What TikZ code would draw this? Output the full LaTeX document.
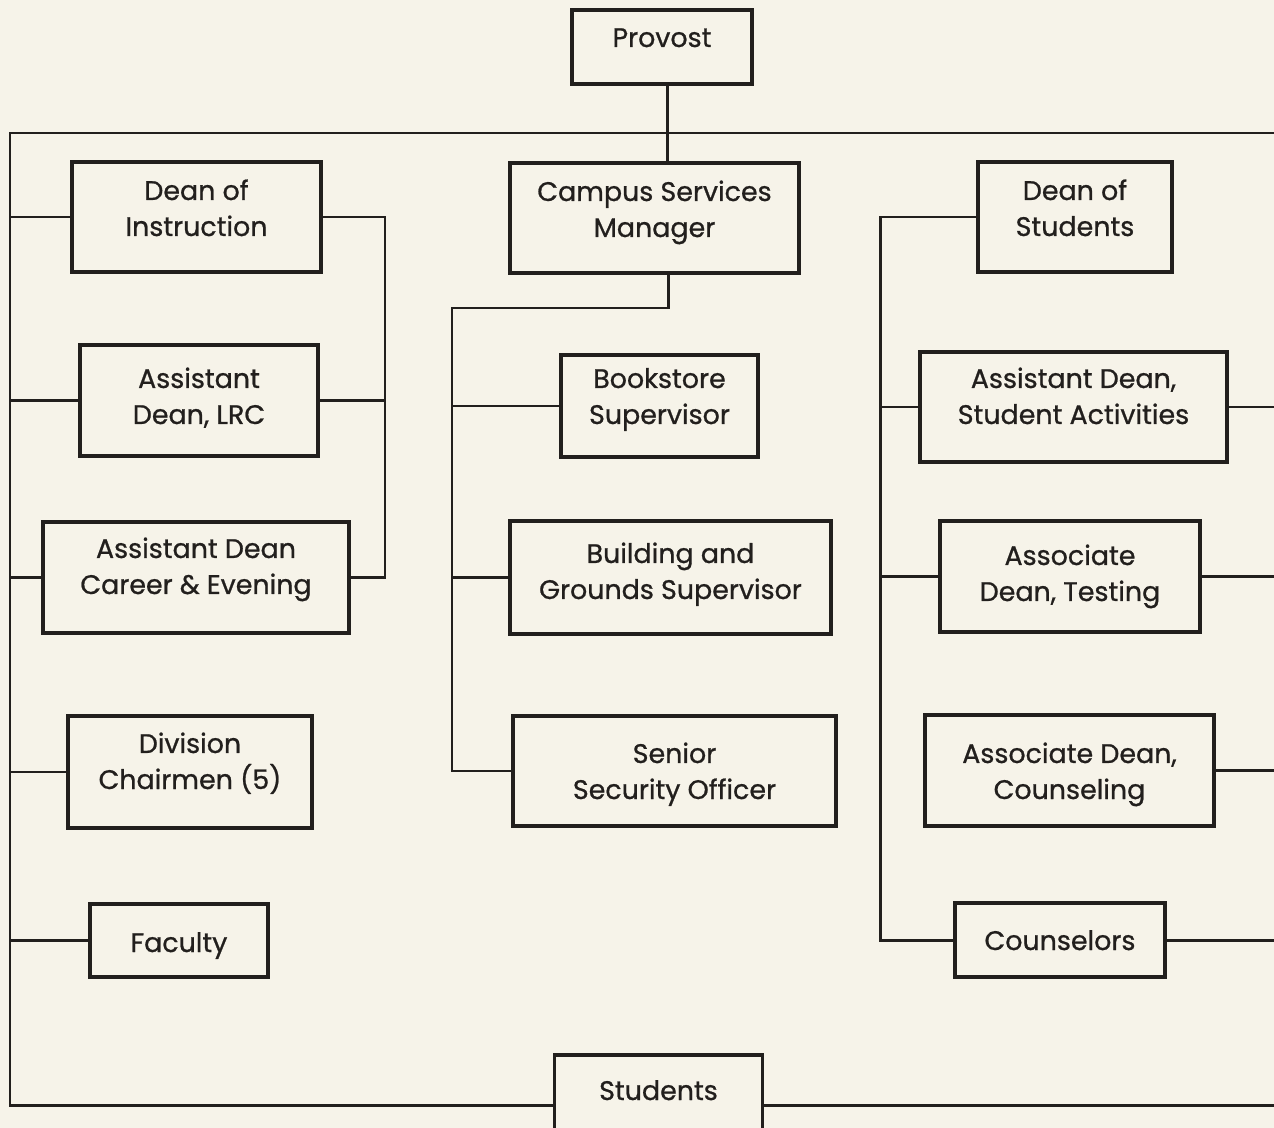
\documentclass[tikz,border=0pt]{standalone}
\usepackage{fontspec}
\setmainfont{Poppins}
\newfontfamily\orgfont{Poppins}[RawFeature={embolden=0.8}]
\usepackage{xcolor}
\usepackage{tikz}
\usetikzlibrary{positioning, calc}

\definecolor{paper}{RGB}{246,243,233}
\definecolor{ink}{RGB}{34,31,29}

\begin{document}
\begin{tikzpicture}[x=0.02cm, y=-0.02cm,
    orgbox/.style n args={3}{draw=ink, line width=1.8pt, rectangle, align=center,
        inner sep=0pt, minimum width=#1, text height=#2, text depth=#3,
        font=\orgfont\fontsize{15.3}{20.5}\selectfont, text=ink},
    link/.style={draw=ink, line width=1.7pt}]

    % Page
    \path[use as bounding box, fill=paper] (0,0) rectangle (1274,1128);
    \clip (0,0) rectangle (1274,1128);

    % Frame and buses
    \coordinate (tl) at (10,133);
    \coordinate (tr) at (1274,133);
    \coordinate (bl) at (10,1105);
    \coordinate (ibus) at (385,0);
    \coordinate (cbus) at (452,308);
    \coordinate (sbus) at (880,0);

    % Top
    \node [orgbox={3.6cm}{0.74cm}{0.74cm}] (provost) at (662,47) {Provost};
    \node [orgbox={5.78cm}{1.48cm}{0.72cm}] (csm) at (654.5,218) {Campus Services\\Manager};

    % Instruction
    \node [orgbox={4.98cm}{1.48cm}{0.72cm}] (dinst) at (196.5,217) {Dean of\\Instruction};
    \node [orgbox={4.76cm}{1.58cm}{0.64cm}] (lrc) at (199,400.5) {Assistant\\Dean, LRC};
    \node [orgbox={6.12cm}{1.44cm}{0.78cm}] (career) at (196,577.5) {Assistant Dean\\Career \& Evening};
    \node [orgbox={4.88cm}{1.46cm}{0.78cm}] (division) at (190,772) {Division\\Chairmen (5)};
    \node [orgbox={3.56cm}{0.96cm}{0.5cm}] (faculty) at (179,940.5) {Faculty};

    % Services
    \node [orgbox={3.94cm}{1.38cm}{0.66cm}] (bookstore) at (659.5,406) {Bookstore\\Supervisor};
    \node [orgbox={6.42cm}{1.56cm}{0.7cm}] (grounds) at (670.5,577.5) {Building and\\Grounds Supervisor};
    \node [orgbox={6.46cm}{1.66cm}{0.54cm}] (security) at (674.5,771) {Senior\\Security Officer};

    % Students side
    \node [orgbox={3.88cm}{1.48cm}{0.72cm}] (dstud) at (1075,217) {Dean of\\Students};
    \node [orgbox={6.14cm}{1.44cm}{0.76cm}] (activities) at (1073.5,407) {Assistant Dean,\\Student Activities};
    \node [orgbox={5.2cm}{1.6cm}{0.62cm}] (testing) at (1070,576.5) {Associate\\Dean, Testing};
    \node [orgbox={5.78cm}{1.68cm}{0.54cm}] (counseling) at (1069.5,770.5) {Associate Dean,\\Counseling};
    \node [orgbox={4.2cm}{0.94cm}{0.54cm}] (counselors) at (1060,940) {Counselors};

    % Bottom
    \node [orgbox={4.16cm}{0.9cm}{1.1cm}] (students) at (658.5,1105) {Students};

    % Outer frame
    \draw [link] (tr) -- (tl) -- (bl) -- (students.west);
    \draw [link] (students.east) -- (students.east -| tr);
    \draw [link] ([xshift=0.1cm]provost.south) -- ([xshift=0.1cm]provost.south |- csm.north);

    % Left side links
    \foreach \n in {dinst, lrc, career, division, faculty}
        \draw [link] (\n.west) -- (\n.west -| tl);
    \draw [link] (dinst.east) -- (dinst.east -| ibus) -- (career.east -| ibus) -- (career.east);
    \draw [link] (lrc.east) -- (lrc.east -| ibus);

    % Services links
    \draw [link] ([xshift=0.27cm]csm.south) -- ([xshift=0.27cm]csm.south |- cbus) -- (cbus)
        -- (security.west -| cbus) -- (security.west);
    \draw [link] (bookstore.west) -- (bookstore.west -| cbus);
    \draw [link] (grounds.west) -- (grounds.west -| cbus);

    % Students side links
    \draw [link] (dstud.west) -- (dstud.west -| sbus) -- (counselors.west -| sbus) -- (counselors.west);
    \draw [link] (activities.west) -- (activities.west -| sbus);
    \draw [link] (testing.west) -- (testing.west -| sbus);
    \foreach \n in {activities, testing, counseling, counselors}
        \draw [link] (\n.east) -- (\n.east -| tr);
\end{tikzpicture}
\end{document}
